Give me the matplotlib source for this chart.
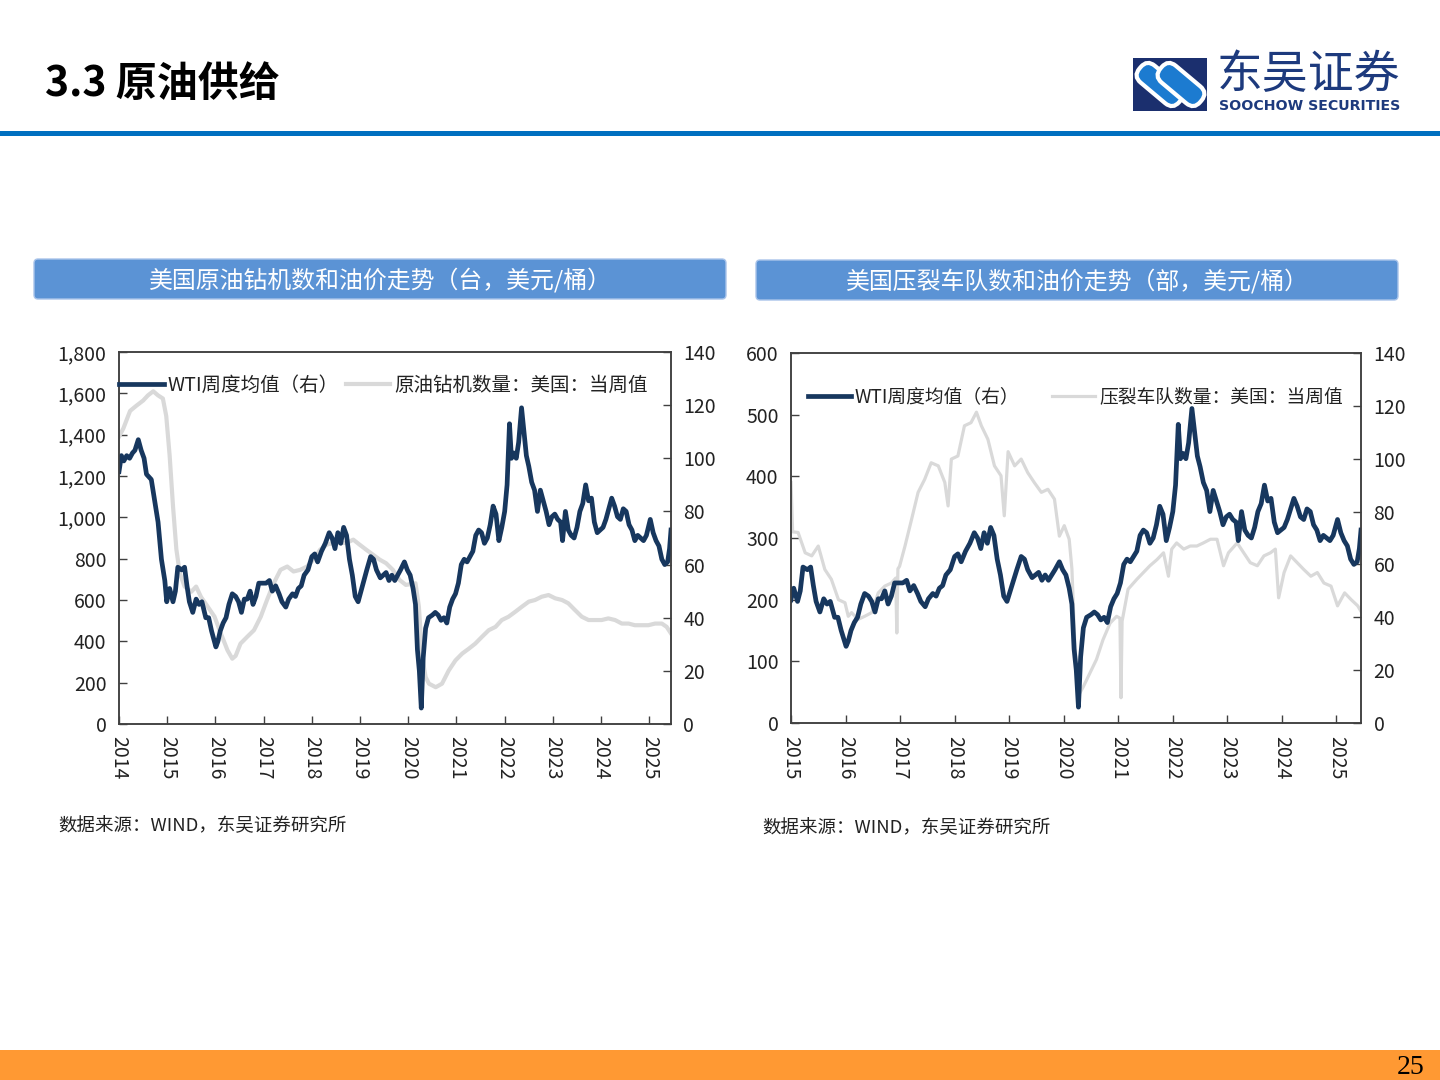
import matplotlib
matplotlib.use('Agg')
import matplotlib.pyplot as plt
import matplotlib.patches as mpatches
from matplotlib.ticker import FuncFormatter
from matplotlib.transforms import Affine2D

plt.rcParams['font.family'] = ['Noto Sans CJK SC', 'DejaVu Sans']

# WTI weekly average (USD/bbl)
wti_t = [2014.00, 2014.05, 2014.10, 2014.16, 2014.22, 2014.28, 2014.33, 2014.40, 2014.46, 2014.52,
         2014.57, 2014.62, 2014.67, 2014.74, 2014.81, 2014.88, 2014.95, 2014.99,
         2015.05, 2015.12, 2015.17, 2015.22, 2015.30, 2015.36, 2015.41, 2015.46, 2015.53, 2015.60,
         2015.66, 2015.72, 2015.80, 2015.86, 2015.92,
         2016.01, 2016.05, 2016.10, 2016.16, 2016.22, 2016.28, 2016.35, 2016.42, 2016.48, 2016.54,
         2016.60, 2016.66, 2016.72, 2016.78, 2016.84, 2016.90, 2016.97,
         2017.05, 2017.12, 2017.18, 2017.25, 2017.32, 2017.38, 2017.46, 2017.52, 2017.60, 2017.66,
         2017.72, 2017.78, 2017.84, 2017.92,
         2018.00, 2018.06, 2018.12, 2018.20, 2018.28, 2018.36, 2018.42, 2018.48, 2018.54, 2018.60,
         2018.66, 2018.72, 2018.78, 2018.84, 2018.90, 2018.96,
         2019.02, 2019.08, 2019.14, 2019.22, 2019.28, 2019.34, 2019.42, 2019.48, 2019.54, 2019.60,
         2019.66, 2019.72, 2019.78, 2019.84, 2019.92, 2019.98,
         2020.04, 2020.10, 2020.15, 2020.19, 2020.23, 2020.27, 2020.31, 2020.36, 2020.42, 2020.50,
         2020.56, 2020.62, 2020.68, 2020.74, 2020.80, 2020.86, 2020.92, 2020.98,
         2021.04, 2021.10, 2021.16, 2021.22, 2021.28, 2021.34, 2021.40, 2021.46, 2021.52, 2021.58,
         2021.64, 2021.70, 2021.76, 2021.82, 2021.88, 2021.94,
         2022.00, 2022.05, 2022.10, 2022.14, 2022.19, 2022.24, 2022.29, 2022.35, 2022.40, 2022.45,
         2022.50, 2022.56, 2022.62, 2022.68, 2022.74, 2022.80, 2022.86, 2022.92, 2022.98,
         2023.04, 2023.10, 2023.16, 2023.20, 2023.26, 2023.32, 2023.38, 2023.44, 2023.50, 2023.56,
         2023.62, 2023.68, 2023.74, 2023.80, 2023.86, 2023.92, 2023.98,
         2024.04, 2024.10, 2024.16, 2024.22, 2024.28, 2024.34, 2024.40, 2024.46, 2024.52, 2024.58,
         2024.64, 2024.70, 2024.76, 2024.82, 2024.88, 2024.94,
         2025.02, 2025.08, 2025.14, 2025.20, 2025.26, 2025.32, 2025.38, 2025.42, 2025.45]
wti_v = [95, 101, 99, 101, 100, 102, 103, 107, 103, 100,
         94, 93, 92, 84, 76, 62, 54, 46,
         51, 46, 50, 59, 58, 59, 52, 46, 42, 47,
         45, 46, 40, 40, 35,
         29, 31, 35, 38, 40, 45, 49, 48, 46, 42,
         47, 47, 50, 45, 48, 53, 53,
         53, 54, 50, 52, 49, 46, 44, 47, 49, 48,
         51, 52, 56, 58,
         63, 64, 61, 65, 68, 72, 70, 66, 72, 68,
         74, 71, 62, 56, 48, 46,
         50, 54, 58, 63, 62, 58, 55, 56, 57, 54,
         56, 54, 56, 58, 61, 58,
         56, 51, 45, 28, 20, 6, 25, 36, 40, 41,
         42, 41, 39, 40, 38, 44, 47, 49,
         53, 60, 62, 61, 63, 65, 71, 73, 72, 68,
         70, 75, 82, 79, 69, 74,
         80, 90, 113, 100, 102, 100, 106, 119, 110, 101,
         97, 91, 88, 80, 88, 84, 80, 75, 78,
         79, 77, 76, 69, 80, 73, 71, 70, 74, 80,
         83, 90, 84, 85, 76, 72, 73,
         74, 77, 81, 85, 82, 78, 77, 81, 80, 75,
         73, 69, 71, 70, 69, 71,
         77, 72, 69, 67, 62, 60, 61, 66, 73]

# US oil rig count (units)
rig_t = [2014.00, 2014.09, 2014.23, 2014.36, 2014.50, 2014.60, 2014.71, 2014.81, 2014.91, 2014.98,
         2015.05, 2015.12, 2015.19, 2015.26, 2015.36, 2015.50, 2015.60, 2015.70, 2015.84, 2015.98,
         2016.11, 2016.25, 2016.35, 2016.42, 2016.52, 2016.66, 2016.80, 2016.94,
         2017.07, 2017.21, 2017.35, 2017.49, 2017.62, 2017.76, 2017.90,
         2018.03, 2018.17, 2018.31, 2018.45, 2018.58, 2018.72, 2018.86, 2018.99,
         2019.13, 2019.27, 2019.41, 2019.54, 2019.68, 2019.82, 2019.95,
         2020.08, 2020.15, 2020.22, 2020.29, 2020.36, 2020.43, 2020.57, 2020.70, 2020.84, 2020.98,
         2021.12, 2021.26, 2021.39, 2021.53, 2021.67, 2021.81, 2021.94,
         2022.08, 2022.22, 2022.36, 2022.50, 2022.63, 2022.77, 2022.91,
         2023.05, 2023.19, 2023.32, 2023.46, 2023.60, 2023.74, 2023.88,
         2024.01, 2024.15, 2024.29, 2024.43, 2024.57, 2024.70, 2024.84, 2024.98,
         2025.12, 2025.26, 2025.36, 2025.45]
rig_v = [1390, 1430, 1515, 1540, 1565, 1590, 1610, 1590, 1575, 1490,
         1300, 1055, 845, 730, 665, 640, 665, 615, 568, 520,
         440, 357, 316, 330, 389, 422, 454, 519,
         600, 681, 746, 762, 738, 746, 762,
         795, 843, 868, 876, 876, 876, 892, 868,
         843, 819, 795, 778, 746, 697, 673,
         678, 681, 568, 324, 227, 195, 178, 195, 259, 308,
         341, 365, 389, 422, 454, 470, 503,
         519, 543, 568, 592, 600, 616, 624,
         608, 600, 584, 551, 519, 503, 503,
         503, 511, 503, 486, 486, 478, 478, 478,
         486, 486, 470, 438]

# US frac spread count (units)
frac_t = [2015.00, 2015.03, 2015.13, 2015.26, 2015.38, 2015.50, 2015.62, 2015.74, 2015.87, 2015.99,
          2016.05, 2016.11, 2016.23, 2016.35, 2016.48, 2016.60, 2016.72, 2016.84, 2016.92, 2016.94,
          2016.96, 2016.99,
          2017.09, 2017.21, 2017.33, 2017.45, 2017.57, 2017.70, 2017.82, 2017.88, 2017.94,
          2018.06, 2018.18, 2018.30, 2018.40, 2018.49, 2018.61, 2018.73, 2018.85, 2018.91, 2018.98,
          2019.10, 2019.22, 2019.34, 2019.46, 2019.59, 2019.71, 2019.83, 2019.92,
          2020.01, 2020.10, 2020.15, 2020.20, 2020.26, 2020.36, 2020.48, 2020.60, 2020.72, 2020.85,
          2020.97, 2021.03, 2021.05, 2021.07,
          2021.18, 2021.34, 2021.46, 2021.58, 2021.71, 2021.83, 2021.92, 2021.98,
          2022.07, 2022.20, 2022.32, 2022.44, 2022.56, 2022.69, 2022.81, 2022.93,
          2023.02, 2023.18, 2023.30, 2023.42, 2023.55, 2023.67, 2023.79, 2023.88, 2023.94,
          2024.04, 2024.16, 2024.28, 2024.40, 2024.53, 2024.65, 2024.77, 2024.90,
          2025.02, 2025.15, 2025.27, 2025.39, 2025.45]
frac_v = [390, 310, 309, 276, 271, 287, 249, 233, 200, 195,
          173, 179, 168, 173, 179, 211, 222, 227, 235, 146,
          250, 254,
          287, 330, 374, 395, 422, 417, 390, 352, 428,
          433, 482, 487, 504, 482, 460, 417, 401, 336, 440,
          417, 428, 406, 390, 374, 379, 363, 303,
          320, 298, 250, 135, 43, 59, 81, 103, 135, 162,
          173, 170, 41, 165,
          217, 233, 244, 255, 265, 276, 238, 282,
          292, 282, 287, 287, 292, 298, 298, 255,
          276, 292, 276, 260, 255, 271, 276, 282, 203,
          244, 271, 260, 249, 238, 244, 227, 222,
          190, 211, 200, 190, 181]

NAVY = '#17375E'
GRAY = '#D9D9D9'
BAR = '#5B93D5'
TXT = '#222222'

W, H = 1440, 1080
fig = plt.figure(figsize=(14.4, 10.8), dpi=100)

# page decorations drawn in pixel coordinates
bg = fig.add_axes([0, 0, 1, 1])
bg.set_xlim(0, W)
bg.set_ylim(H, 0)
bg.axis('off')
bg.set_zorder(0)

bg.text(45, 84, '3.3 原油供给', fontsize=29.5, fontweight='bold', va='center', ha='left', color='black')
bg.add_patch(mpatches.Rectangle((0, 131), W, 5, color='#0070C0', lw=0))

# logo
bg.add_patch(mpatches.Rectangle((1133, 58), 74, 53, color='#1B2F6E', lw=0))
for ang, cx in [(-50, 1160), (-50, 1181)]:
    link = mpatches.FancyBboxPatch((cx - 11, 84.5 - 26), 22, 52,
                                   boxstyle='round,pad=0,rounding_size=10',
                                   fc='#1C7BD0', ec='white', lw=3,
                                   transform=Affine2D().rotate_deg_around(cx, 84.5, ang) + bg.transData)
    bg.add_patch(link)
bg.text(1217, 75, '东吴证券', fontsize=33, color='#1D3A7D', va='center', ha='left')
bg.text(1219, 106, 'SOOCHOW SECURITIES', fontsize=10.2, fontweight='bold', family='DejaVu Sans',
        color='#1D3A7D', va='center', ha='left')

# chart title bars
for (x0, y0, x1, y1, title) in [(34, 259, 726, 299, '美国原油钻机数和油价走势（台，美元/桶）'),
                                (756, 260, 1398, 300, '美国压裂车队数和油价走势（部，美元/桶）')]:
    bg.add_patch(mpatches.FancyBboxPatch((x0, y0), x1 - x0, y1 - y0,
                                         boxstyle='round,pad=0,rounding_size=4',
                                         fc=BAR, ec='#A9C4EA', lw=1))
    bg.text((x0 + x1) / 2, (y0 + y1) / 2 + 1, title, fontsize=17.2, color='white', ha='center', va='center')

bg.text(58, 826, '数据来源：WIND，东吴证券研究所', fontsize=13.3, style='italic', color=TXT, va='center')
bg.text(762, 828, '数据来源：WIND，东吴证券研究所', fontsize=13.3, style='italic', color=TXT, va='center')

bg.add_patch(mpatches.Rectangle((0, 1050), W, 30, color='#FF9933', lw=0))
bg.text(1424, 1067, '25', fontsize=20, family='Liberation Serif', color='black', ha='right', va='center')


def px_axes(x0, y0, x1, y1):
    return fig.add_axes([x0 / W, 1 - y1 / H, (x1 - x0) / W, (y1 - y0) / H])


def draw_chart(rect, t, v, ymax, ystep, year0, label, leg_xy, leg_size, colspace, gray_lw, comma):
    ax = px_axes(*rect)
    ax.set_zorder(2)
    ax.patch.set_alpha(0)
    l_gray, = ax.plot(t, v, color=GRAY, lw=gray_lw, solid_joinstyle='round')
    ax2 = ax.twinx()
    l_wti, = ax2.plot(wti_t, wti_v, color=NAVY, lw=3.4, solid_joinstyle='round')

    ax.set_xlim(year0, 2025.45)
    ax.set_ylim(0, ymax)
    ax2.set_ylim(0, 140)
    ax.set_yticks(range(0, ymax + 1, ystep))
    ax2.set_yticks(range(0, 141, 20))
    if comma:
        ax.yaxis.set_major_formatter(FuncFormatter(lambda y, p: f'{y:,.0f}'))
    years = list(range(year0, 2026))
    ax.set_xticks(years)
    ax.set_xticklabels([str(y) for y in years], rotation=-90)

    for a in (ax, ax2):
        a.tick_params(direction='in', length=5.5, width=1, pad=9, labelsize=14,
                      colors='#404040', labelcolor=TXT)
        for s in a.spines.values():
            s.set_color('#404040')
            s.set_linewidth(1.1)

    ax2.legend([l_wti, l_gray], ['WTI周度均值（右）', label], loc='center left',
               bbox_to_anchor=leg_xy, ncol=2, frameon=False, fontsize=leg_size,
               handlelength=2.3, handletextpad=0.2, columnspacing=colspace,
               borderpad=0, borderaxespad=0, labelcolor=TXT)
    return ax, ax2


draw_chart((119, 352, 671, 724), rig_t, rig_v, 1800, 200, 2014, '原油钻机数量：美国：当周值',
           (0.0, 0.911), 14, 0.35, 3.0, True)
draw_chart((791, 353, 1361, 723), frac_t, frac_v, 600, 100, 2015, '压裂车队数量：美国：当周值',
           (0.03, 0.881), 13.5, 1.73, 2.3, False)

fig.savefig('out.png', dpi=100)
